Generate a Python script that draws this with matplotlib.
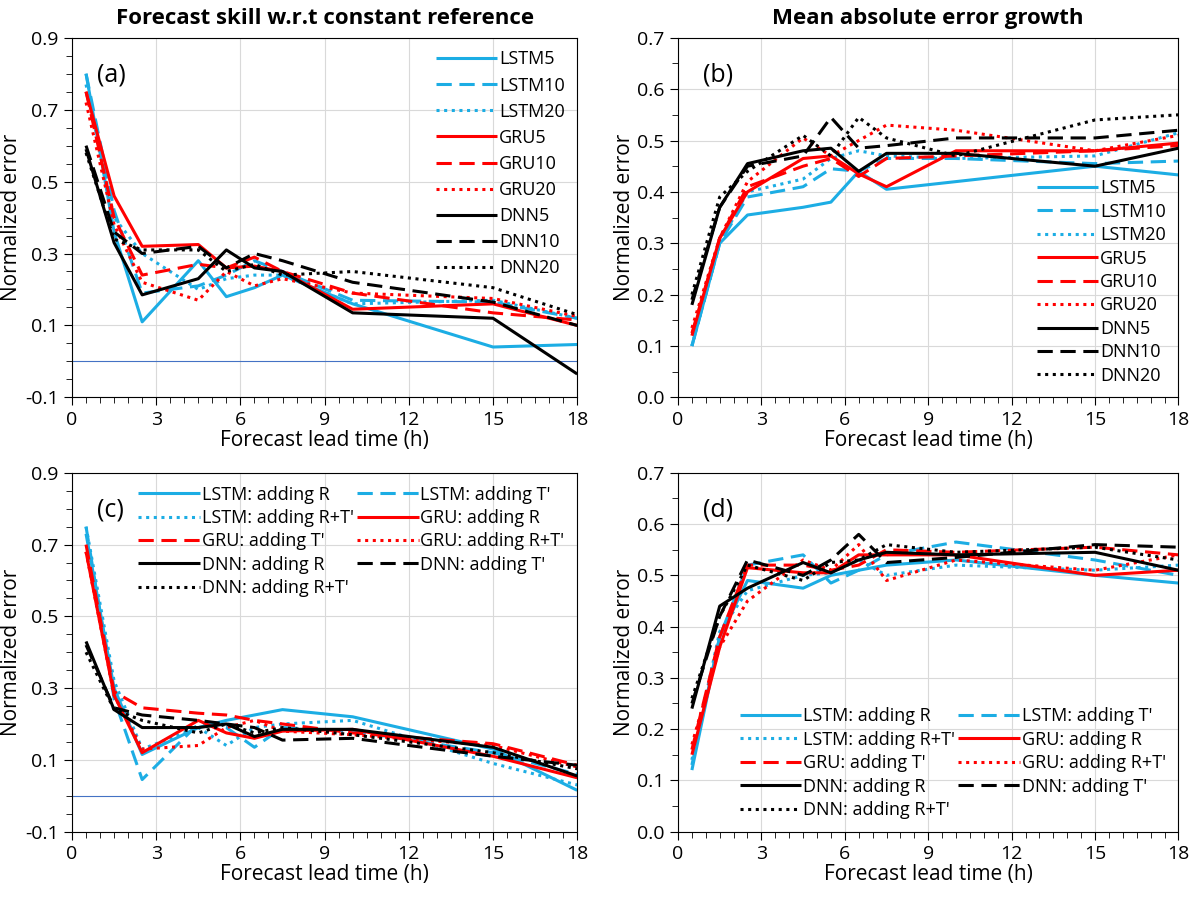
import matplotlib
matplotlib.use("Agg")
import matplotlib.pyplot as plt
from matplotlib.ticker import MultipleLocator

plt.rcParams['font.family'] = ['Open Sans', 'DejaVu Sans']

hours = [0.5, 1.5, 2.5, 4.5, 5.5, 6.5, 7.5, 10, 15, 18]

names_ab = ["LSTM5", "LSTM10", "LSTM20", "GRU5", "GRU10", "GRU20", "DNN5", "DNN10", "DNN20"]
a_vals = [
    [0.80, 0.36, 0.11, 0.28, 0.18, 0.205, 0.24, 0.16, 0.04, 0.047],
    [0.80, 0.42, 0.19, 0.21, 0.24, 0.28, 0.25, 0.17, 0.165, 0.12],
    [0.77, 0.40, 0.30, 0.20, 0.23, 0.24, 0.24, 0.16, 0.17, 0.12],
    [0.75, 0.46, 0.32, 0.325, 0.26, 0.265, 0.25, 0.145, 0.16, 0.10],
    [0.75, 0.40, 0.24, 0.27, 0.26, 0.29, 0.25, 0.19, 0.135, 0.115],
    [0.72, 0.38, 0.22, 0.17, 0.25, 0.21, 0.23, 0.19, 0.175, 0.125],
    [0.59, 0.33, 0.185, 0.23, 0.31, 0.26, 0.25, 0.135, 0.12, -0.035],
    [0.60, 0.36, 0.30, 0.32, 0.26, 0.30, 0.28, 0.22, 0.165, 0.10],
    [0.58, 0.34, 0.31, 0.31, 0.25, 0.27, 0.24, 0.25, 0.205, 0.13],
]
b_vals = [
    [0.10, 0.30, 0.355, 0.37, 0.38, 0.44, 0.405, 0.42, 0.45, 0.433],
    [0.10, 0.30, 0.39, 0.41, 0.445, 0.44, 0.465, 0.465, 0.455, 0.46],
    [0.10, 0.30, 0.40, 0.425, 0.465, 0.48, 0.47, 0.465, 0.47, 0.515],
    [0.12, 0.31, 0.40, 0.465, 0.47, 0.435, 0.41, 0.48, 0.48, 0.495],
    [0.125, 0.31, 0.41, 0.45, 0.465, 0.43, 0.465, 0.47, 0.48, 0.49],
    [0.135, 0.31, 0.42, 0.505, 0.47, 0.50, 0.53, 0.52, 0.48, 0.51],
    [0.18, 0.37, 0.455, 0.48, 0.485, 0.44, 0.475, 0.475, 0.45, 0.485],
    [0.19, 0.37, 0.45, 0.47, 0.545, 0.485, 0.49, 0.505, 0.505, 0.52],
    [0.20, 0.39, 0.44, 0.51, 0.47, 0.545, 0.505, 0.47, 0.54, 0.55],
]
names_cd = ["LSTM: adding R", "LSTM: adding T'", "LSTM: adding R+T'",
            "GRU: adding R", "GRU: adding T'", "GRU: adding R+T'",
            "DNN: adding R", "DNN: adding T'", "DNN: adding R+T'"]
c_vals = [
    [0.73, 0.30, 0.115, 0.19, 0.21, 0.225, 0.24, 0.22, 0.13, 0.015],
    [0.75, 0.27, 0.045, 0.20, 0.19, 0.135, 0.19, 0.18, 0.12, 0.06],
    [0.75, 0.32, 0.13, 0.19, 0.14, 0.19, 0.20, 0.21, 0.09, 0.03],
    [0.68, 0.28, 0.12, 0.21, 0.175, 0.16, 0.18, 0.185, 0.11, 0.05],
    [0.70, 0.29, 0.245, 0.23, 0.225, 0.21, 0.20, 0.175, 0.145, 0.085],
    [0.68, 0.28, 0.13, 0.14, 0.19, 0.21, 0.18, 0.17, 0.14, 0.08],
    [0.43, 0.24, 0.19, 0.19, 0.20, 0.165, 0.185, 0.185, 0.135, 0.055],
    [0.42, 0.245, 0.225, 0.21, 0.20, 0.19, 0.155, 0.16, 0.11, 0.085],
    [0.40, 0.24, 0.21, 0.175, 0.20, 0.175, 0.19, 0.17, 0.12, 0.075],
]
d_vals = [
    [0.12, 0.38, 0.49, 0.475, 0.50, 0.51, 0.52, 0.53, 0.50, 0.485],
    [0.13, 0.38, 0.52, 0.54, 0.485, 0.51, 0.54, 0.565, 0.53, 0.50],
    [0.14, 0.39, 0.47, 0.50, 0.505, 0.53, 0.50, 0.52, 0.51, 0.52],
    [0.15, 0.36, 0.515, 0.505, 0.505, 0.54, 0.54, 0.54, 0.50, 0.51],
    [0.16, 0.38, 0.52, 0.52, 0.51, 0.52, 0.55, 0.545, 0.555, 0.54],
    [0.17, 0.36, 0.45, 0.53, 0.51, 0.56, 0.49, 0.53, 0.51, 0.54],
    [0.24, 0.44, 0.475, 0.525, 0.505, 0.53, 0.545, 0.54, 0.545, 0.51],
    [0.25, 0.42, 0.53, 0.50, 0.53, 0.58, 0.525, 0.535, 0.56, 0.555],
    [0.26, 0.42, 0.52, 0.49, 0.525, 0.53, 0.56, 0.545, 0.555, 0.53],
]

colors = ["#1CADE4"] * 3 + ["#FF0000"] * 3 + ["#000000"] * 3
styles = [(0, ()), (0, (5, 2.5)), (0, (1, 1.5))] * 3

fig = plt.figure(figsize=(12, 8.99), dpi=100)
pos = {
    'a': [0.060, 0.558, 0.421, 0.400],
    'b': [0.565, 0.558, 0.417, 0.400],
    'c': [0.060, 0.075, 0.421, 0.399],
    'd': [0.565, 0.075, 0.417, 0.399],
}

def setup(ax, ylim, label, skill):
    ax.set_xlim(0, 18)
    ax.set_ylim(*ylim)
    ax.xaxis.set_major_locator(MultipleLocator(3))
    ax.xaxis.set_minor_locator(MultipleLocator(0.5))
    ax.yaxis.set_minor_locator(MultipleLocator(0.05))
    if skill:
        ax.set_yticks([-0.1, 0.1, 0.3, 0.5, 0.7, 0.9])
        ax.axhline(0, color='#4472C4', lw=0.8, zorder=1)
    else:
        ax.yaxis.set_major_locator(MultipleLocator(0.1))
    ax.yaxis.set_major_formatter(matplotlib.ticker.FormatStrFormatter('%.1f'))
    ax.grid(True, which='major', color='#d9d9d9', lw=0.8)
    ax.set_axisbelow(True)
    ax.tick_params(which='both', direction='out', labelsize=14, color='black')
    ax.tick_params(which='major', length=6)
    ax.tick_params(which='minor', length=4)
    ax.set_xlabel("Forecast lead time (h)", fontsize=15, labelpad=1)
    ax.set_ylabel("Normalized error", fontsize=15, labelpad=2)
    ax.text(0.05, 0.93, label, transform=ax.transAxes, fontsize=18, va='top')
    for s in ax.spines.values():
        s.set_color('black')

def draw(ax, vals, names):
    hs = []
    for v, n, c, s in zip(vals, names, colors, styles):
        hs += ax.plot(hours, v, color=c, linestyle=s, lw=2.2, label=n)
    return hs

def legend2(ax, hs, loc):
    order = [0, 2, 4, 6, 8, 1, 3, 5, 7]
    h = [hs[i] for i in order]
    ax.legend(h, [x.get_label() for x in h], loc=loc, frameon=False, fontsize=13, ncol=2,
              handlelength=3.4, handletextpad=0.1, labelspacing=0.3, columnspacing=0.2,
              borderaxespad=0.3)

ax = fig.add_axes(pos['a'])
draw(ax, a_vals, names_ab)
setup(ax, (-0.1, 0.9), "(a)", True)
ax.set_title("Forecast skill w.r.t constant reference", fontsize=16, fontweight='bold', pad=10)
ax.legend(loc='upper right', frameon=False, fontsize=13, handlelength=3.4,
          handletextpad=0.1, labelspacing=0.45, borderaxespad=0.3)

ax = fig.add_axes(pos['b'])
draw(ax, b_vals, names_ab)
setup(ax, (0, 0.7), "(b)", False)
ax.set_title("Mean absolute error growth", fontsize=16, fontweight='bold', pad=10)
ax.legend(loc='lower right', frameon=False, fontsize=13, handlelength=3.4,
          handletextpad=0.1, labelspacing=0.3, borderaxespad=0.3)

ax = fig.add_axes(pos['c'])
hs = draw(ax, c_vals, names_cd)
setup(ax, (-0.1, 0.9), "(c)", True)
legend2(ax, hs, 'upper right')

ax = fig.add_axes(pos['d'])
hs = draw(ax, d_vals, names_cd)
setup(ax, (0, 0.7), "(d)", False)
legend2(ax, hs, 'lower right')

fig.savefig("out.png", dpi=100)
